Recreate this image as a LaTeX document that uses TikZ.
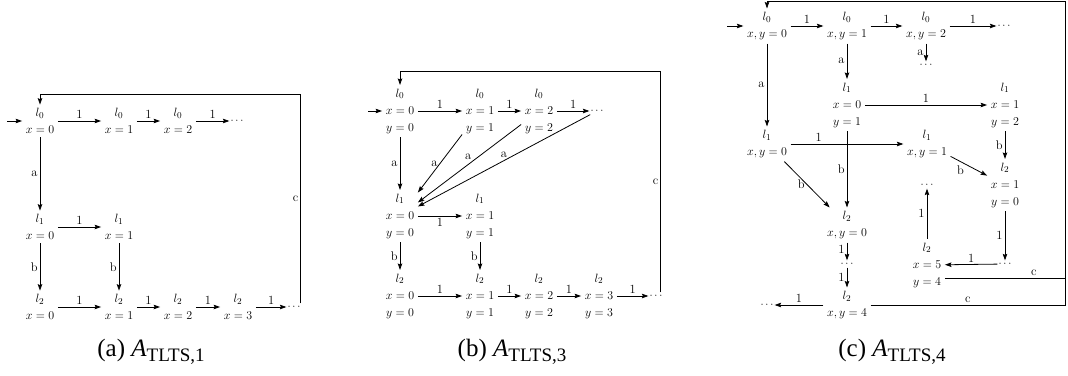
\documentclass[tikz,border=0pt]{standalone}
\usepackage{fontspec}
\newfontfamily\capfont{Liberation Serif}
\usetikzlibrary{arrows.meta}
\begin{document}
\begin{tikzpicture}[x=1pt,y=-1pt,
  st/.style={inner sep=3.5pt, align=center, font=\fontsize{12.8}{17}\selectfont},
  dt/.style={inner sep=1pt, font=\fontsize{10.5}{12}\selectfont},
  lab/.style={inner sep=2pt, font=\fontsize{12.5}{14}\selectfont},
  arr/.style={-{Stealth[length=6.5pt,width=4.5pt,inset=1pt]}, line width=0.8pt},
  ln/.style={line width=0.8pt},
  captext/.style={inner sep=0pt, font=\capfont\fontsize{25}{28}\selectfont}]
\useasboundingbox (0,0) rectangle (1068,375);

% ---------------- panel (a)
\node[st] (a00) at (40,121) {$l_0$\\$x=0$};
\node[st] (a01) at (119,121) {$l_0$\\$x=1$};
\node[st] (a02) at (178,121) {$l_0$\\$x=2$};
\node[dt] (a0d) at (237,121) {$\cdots$};
\node[st] (a10) at (40,227) {$l_1$\\$x=0$};
\node[st] (a11) at (119,227) {$l_1$\\$x=1$};
\node[st] (a20) at (40,307) {$l_2$\\$x=0$};
\node[st] (a21) at (119,307) {$l_2$\\$x=1$};
\node[st] (a22) at (178,307) {$l_2$\\$x=2$};
\node[st] (a23) at (238,307) {$l_2$\\$x=3$};
\node[dt] (a2d) at (294,307) {$\cdots$};
\coordinate (ain) at (7,121);
\coordinate (atop) at (40,94);

\draw[arr] (ain) -- (a00);
\draw[arr] (a00) -- node[lab,above]{1} (a01);
\draw[arr] (a01) -- node[lab,above]{1} (a02);
\draw[arr] (a02) -- node[lab,above]{1} (a0d);
\draw[arr] (a00) -- node[lab,left]{a} (a10);
\draw[arr] (a10) -- node[lab,above]{1} (a11);
\draw[arr] (a10) -- node[lab,left]{b} (a20);
\draw[arr] (a11) -- node[lab,left]{b} (a21);
\draw[arr] (a20) -- node[lab,above]{1} (a21);
\draw[arr] (a21) -- node[lab,above]{1} (a22);
\draw[arr] (a22) -- node[lab,above]{1} (a23);
\draw[arr] (a23) -- node[lab,above]{1} (a2d);
\draw[arr] ([xshift=-1pt]a2d.north east) |- node[lab,left,pos=.25]{c} (atop) -- (a00);
\node[captext] (capa) at (151,352) {(a) \textit{A}\raisebox{-0.2em}{\fontsize{19}{19}\selectfont TLTS,1}};

% ---------------- panel (b)
\node[st] (b00) at (400,111) {$l_0$\\$x=0$\\$y=0$};
\node[st] (b01) at (480,111) {$l_0$\\$x=1$\\$y=1$};
\node[st] (b02) at (539,111) {$l_0$\\$x=2$\\$y=2$};
\node[dt] (b0d) at (597,111) {$\cdots$};
\node[st] (b10) at (400,216) {$l_1$\\$x=0$\\$y=0$};
\node[st] (b11) at (480,216) {$l_1$\\$x=1$\\$y=1$};
\node[st] (b20) at (400,296) {$l_2$\\$x=0$\\$y=0$};
\node[st] (b21) at (480,296) {$l_2$\\$x=1$\\$y=1$};
\node[st] (b22) at (539,296) {$l_2$\\$x=2$\\$y=2$};
\node[st] (b23) at (599,296) {$l_2$\\$x=3$\\$y=3$};
\node[dt] (b2d) at (656,296) {$\cdots$};
\coordinate (bin) at (368,111);
\coordinate (btop) at (400,71);

\draw[arr] (bin) -- (b00);
\draw[arr] (b00) -- node[lab,above]{1} (b01);
\draw[arr] (b01) -- node[lab,above]{1} (b02);
\draw[arr] (b02) -- node[lab,above]{1} (b0d);
\draw[arr] (b00) -- node[lab,left]{a} (b10);
\draw[arr] (b01) -- node[lab,left,pos=.5]{a} (b10);
\draw[arr] (b02) -- node[lab,above left,pos=.47,inner sep=1pt]{a} (b10);
\draw[arr] (b0d) -- node[lab,above,pos=.5,inner sep=3pt]{a} (b10);
\draw[arr] (b10) -- node[lab,below]{1} (b11);
\draw[arr] (b10) -- node[lab,left]{b} (b20);
\draw[arr] (b11) -- node[lab,left]{b} (b21);
\draw[arr] (b20) -- node[lab,above]{1} (b21);
\draw[arr] (b21) -- node[lab,above]{1} (b22);
\draw[arr] (b22) -- node[lab,above]{1} (b23);
\draw[arr] (b23) -- node[lab,above]{1} (b2d);
\draw[arr] ([xshift=-3pt]b2d.north east) |- node[lab,left,pos=.25]{c} (btop) -- (b00);
\node[captext] (capb) at (512,352) {(b) \textit{A}\raisebox{-0.2em}{\fontsize{19}{19}\selectfont TLTS,3}};

% ---------------- panel (c)
\node[st] (c00) at (767,26) {$l_0$\\$x,y=0$};
\node[st] (c01) at (847,26) {$l_0$\\$x,y=1$};
\node[st] (c02) at (926,26) {$l_0$\\$x,y=2$};
\node[dt] (c0d) at (1004,26) {$\cdots$};
\node[dt] (c02d) at (926,65) {$\cdots$};
\node[st] (cA) at (847,105) {$l_1$\\$x=0$\\$y=1$};
\node[st] (cB) at (1005,105) {$l_1$\\$x=1$\\$y=2$};
\node[st] (c10) at (767,144) {$l_1$\\$x,y=0$};
\node[st] (c11) at (927,144) {$l_1$\\$x,y=1$};
\node[st] (c21) at (1005,185) {$l_2$\\$x=1$\\$y=0$};
\node[st] (c20) at (847,225) {$l_2$\\$x,y=0$};
\node[dt] (cMd) at (927,185) {$\cdots$};
\node[st] (c54) at (927,265) {$l_2$\\$x=5$\\$y=4$};
\node[dt] (cRd) at (1005,264) {$\cdots$};
\node[dt] (c2d) at (847,264) {$\cdots$};
\node[st] (c4) at (847,305) {$l_2$\\$x,y=4$};
\node[dt] (cLd) at (767,305) {$\cdots$};
\coordinate (cin) at (727,26);
\coordinate (cTL) at (767,1);
\coordinate (cR4) at (1065,305);
\coordinate (cR5) at (1065,278);

\draw[arr] (cin) -- (c00);
\draw[arr] (c00) -- node[lab,above]{1} (c01);
\draw[arr] (c01) -- node[lab,above]{1} (c02);
\draw[arr] (c02) -- node[lab,above]{1} (c0d);
\draw[arr] (c02) -- node[lab,left]{a} (c02d);
\draw[arr] (c01) -- node[lab,left]{a} (cA);
\draw[arr] (c00) -- node[lab,left]{a} (c10);
\draw[arr] (cA) -- node[lab,above]{1} (cB);
\draw[arr] (c10) -- node[lab,above,pos=.25]{1} (c11);
\draw[arr] (cA) -- node[lab,left,pos=.5]{b} (c20);
\draw[arr] (c10) -- node[lab,left,pos=.5]{b} (c20);
\draw[arr] (c11) -- node[lab,below left,pos=.4,inner sep=1pt]{b} (c21);
\draw[arr] (cB) -- node[lab,left]{b} (c21);
\draw[arr] (c21) -- node[lab,left]{1} (cRd);
\draw[arr] (cRd) -- node[lab,above]{1} (c54);
\draw[arr] (c54) -- node[lab,left]{1} (cMd);
\draw[arr] (c20) -- node[lab,left,pos=.4]{1} (c2d);
\draw[arr] (c2d) -- node[lab,left]{1} (c4);
\draw[arr] (c4) -- node[lab,above]{1} (cLd);
\draw[arr] (c4) -- node[lab,above]{c} (cR4) |- (cTL) -- (c00);
\draw[ln] ([yshift=-13pt]c54.east) -- node[lab,above,pos=.74]{c} (cR5);
\node[captext] (capc) at (892,352) {(c) \textit{A}\raisebox{-0.2em}{\fontsize{19}{19}\selectfont TLTS,4}};
\end{tikzpicture}
\end{document}
